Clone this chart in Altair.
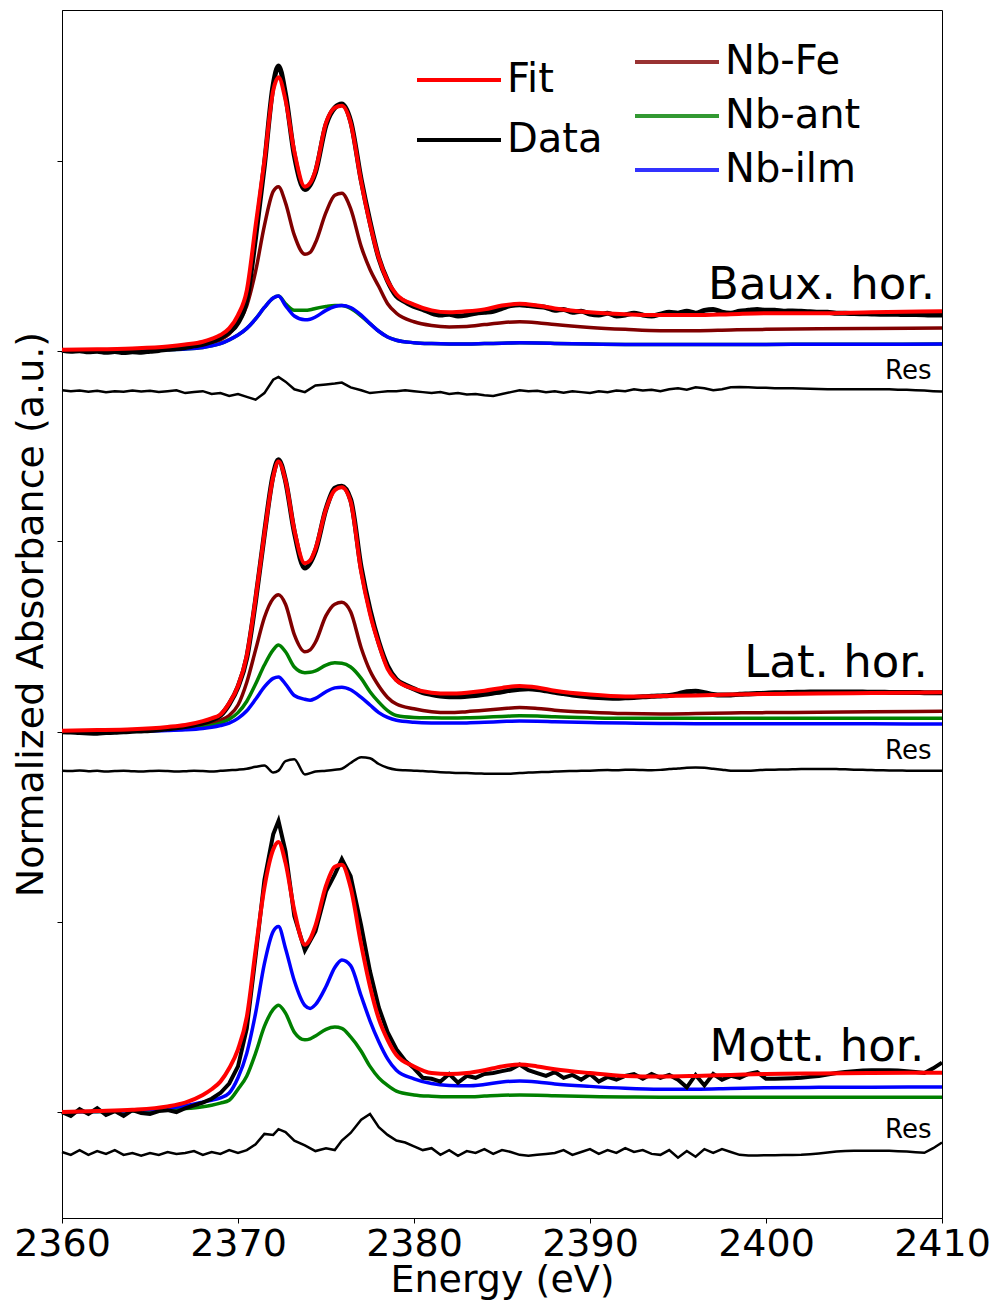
import altair as alt
import pandas as pd

# ---------------- energy grids (eV) ----------------
E_SMOOTH = [2360, 2362, 2364, 2366, 2367, 2368,
            2368.5, 2369, 2369.5, 2370, 2370.5, 2371, 2371.5, 2372, 2372.3, 2372.7,
            2373.2, 2373.8, 2374.1, 2374.4, 2375, 2375.5, 2375.9, 2376.4, 2377, 2377.5, 2378,
            2378.5, 2379, 2380, 2381, 2382, 2383, 2384, 2385, 2386, 2387,
            2388, 2390, 2392, 2394, 2396, 2398, 2400, 2403, 2406, 2410]

E_FINE = [2360, 2360.5, 2361, 2361.5, 2362, 2362.5, 2363, 2363.5, 2364, 2364.5,
          2365, 2365.5, 2366, 2366.5, 2367, 2367.5, 2368, 2368.5, 2369, 2369.5,
          2370,
          2370.5, 2371, 2371.5, 2372, 2372.3, 2372.7, 2373.2, 2373.8, 2374.4, 2375,
          2375.5, 2375.9, 2376.4, 2377, 2377.5, 2378, 2378.5, 2379,
          2379.5, 2380, 2380.5, 2381, 2381.5, 2382, 2382.5, 2383, 2383.5, 2384,
          2384.5, 2385, 2385.5, 2386, 2386.5, 2387, 2387.5, 2388, 2388.5, 2389,
          2389.5, 2390, 2390.5, 2391, 2391.5, 2392, 2392.5, 2393, 2393.5, 2394,
          2394.5, 2395, 2395.5, 2396, 2396.5, 2397, 2397.5, 2398, 2398.5, 2399,
          2399.5, 2400, 2400.5, 2401, 2401.5, 2402, 2402.5, 2403, 2403.5, 2404,
          2404.5, 2405, 2405.5, 2406, 2406.5, 2407, 2407.5, 2408, 2408.5, 2409,
          2409.5, 2410]

# ---------------- Bauxite horizon (offset +4) ----------------
BAUX_FIT = [4.008, 4.01, 4.015, 4.025, 4.035, 4.05,
            4.065, 4.085, 4.12, 4.19, 4.32, 4.66, 5.00, 5.37, 5.44, 5.32,
            5.05, 4.865, 4.885, 4.95, 5.20, 5.28, 5.29, 5.20, 4.89, 4.67, 4.49,
            4.37, 4.30, 4.245, 4.215, 4.205, 4.21, 4.22, 4.24, 4.25, 4.24,
            4.225, 4.205, 4.195, 4.19, 4.19, 4.195, 4.20, 4.20, 4.205, 4.21]
BAUX_FE = [4.005, 4.007, 4.01, 4.017, 4.025, 4.035,
           4.045, 4.06, 4.09, 4.15, 4.24, 4.42, 4.66, 4.84, 4.865, 4.78,
           4.61, 4.51, 4.52, 4.57, 4.73, 4.82, 4.83, 4.75, 4.55, 4.43, 4.34,
           4.25, 4.20, 4.155, 4.135, 4.128, 4.13, 4.14, 4.15, 4.155, 4.15,
           4.14, 4.125, 4.115, 4.108, 4.108, 4.112, 4.115, 4.118, 4.12, 4.122]
BAUX_ANT = [4.0, 4.002, 4.004, 4.008, 4.012, 4.02,
            4.028, 4.04, 4.06, 4.085, 4.12, 4.17, 4.23, 4.28, 4.29, 4.25,
            4.215, 4.215, 4.218, 4.225, 4.235, 4.24, 4.24, 4.225, 4.185, 4.145, 4.105,
            4.075, 4.058, 4.045, 4.04, 4.038, 4.038, 4.04, 4.042, 4.044, 4.043,
            4.041, 4.038, 4.036, 4.035, 4.035, 4.036, 4.036, 4.037, 4.037, 4.038]
BAUX_ILM = [4.0, 4.002, 4.004, 4.008, 4.012, 4.02,
            4.028, 4.04, 4.06, 4.085, 4.12, 4.17, 4.23, 4.28, 4.29, 4.24,
            4.185, 4.165, 4.168, 4.18, 4.215, 4.235, 4.24, 4.23, 4.19, 4.145, 4.105,
            4.075, 4.058, 4.045, 4.04, 4.038, 4.038, 4.04, 4.042, 4.044, 4.043,
            4.041, 4.038, 4.036, 4.035, 4.035, 4.036, 4.036, 4.037, 4.037, 4.038]
BAUX_DATA = [4.005, 4.0, 4.003, 3.997, 4.0, 3.994, 3.998, 3.993, 3.997, 3.995,
             4.0, 4.004, 4.01, 4.014, 4.02, 4.028, 4.036, 4.05, 4.07, 4.10,
             4.15,
             4.27, 4.60, 4.98, 5.40, 5.50, 5.35, 5.03, 4.85, 4.94, 5.19,
             5.28, 5.30, 5.21, 4.90, 4.68, 4.49, 4.37, 4.29,
             4.26, 4.235, 4.22, 4.20, 4.19, 4.195, 4.185, 4.19, 4.2, 4.205,
             4.21, 4.225, 4.24, 4.245, 4.24, 4.235, 4.23, 4.215, 4.22, 4.205,
             4.21, 4.195, 4.19, 4.2, 4.185, 4.19, 4.2, 4.19, 4.185, 4.195,
             4.205, 4.2, 4.21, 4.2, 4.215, 4.22, 4.205, 4.2, 4.21, 4.215,
             4.22, 4.215, 4.215, 4.21, 4.212, 4.21, 4.208, 4.205, 4.205, 4.2,
             4.2, 4.198, 4.197, 4.196, 4.195, 4.195, 4.194, 4.193, 4.193, 4.192,
             4.19, 4.19]
BAUX_RES = [3.795, 3.79, 3.793, 3.787, 3.792, 3.785, 3.79, 3.787, 3.793, 3.788,
            3.792, 3.786, 3.79, 3.795, 3.78, 3.786, 3.79, 3.775, 3.78, 3.765,
            3.775,
            3.76, 3.745, 3.78, 3.85, 3.865, 3.84, 3.80, 3.785, 3.82, 3.825,
            3.83, 3.835, 3.81, 3.795, 3.78, 3.785, 3.79, 3.79,
            3.795, 3.79, 3.785, 3.78, 3.785, 3.775, 3.78, 3.772, 3.775, 3.768,
            3.765, 3.775, 3.785, 3.795, 3.79, 3.792, 3.785, 3.79, 3.782, 3.79,
            3.785, 3.78, 3.79, 3.785, 3.793, 3.79, 3.8, 3.793, 3.797, 3.79,
            3.8, 3.805, 3.798, 3.81, 3.805, 3.795, 3.8, 3.81, 3.812, 3.81,
            3.808, 3.808, 3.806, 3.805, 3.805, 3.804, 3.803, 3.802, 3.8, 3.8,
            3.8, 3.8, 3.8, 3.8, 3.8, 3.8, 3.798, 3.797, 3.795, 3.793,
            3.79, 3.788]

# ---------------- Laterite horizon (offset +2) ----------------
LAT_FIT = [2.005, 2.008, 2.013, 2.025, 2.035, 2.055,
           2.07, 2.09, 2.15, 2.24, 2.40, 2.70, 3.04, 3.34, 3.42, 3.32,
           3.06, 2.885, 2.90, 2.96, 3.17, 3.27, 3.285, 3.21, 2.84, 2.62, 2.46,
           2.33, 2.27, 2.225, 2.205, 2.20, 2.205, 2.215, 2.23, 2.24, 2.232,
           2.215, 2.195, 2.185, 2.187, 2.19, 2.195, 2.198, 2.20, 2.203, 2.207]
LAT_FE = [2.003, 2.005, 2.008, 2.015, 2.022, 2.033,
          2.042, 2.06, 2.085, 2.14, 2.26, 2.43, 2.60, 2.70, 2.72, 2.67,
          2.51, 2.42, 2.43, 2.47, 2.61, 2.67, 2.68, 2.63, 2.44, 2.32, 2.24,
          2.18, 2.145, 2.12, 2.105, 2.10, 2.105, 2.112, 2.12, 2.127, 2.122,
          2.113, 2.102, 2.095, 2.093, 2.095, 2.098, 2.10, 2.102, 2.105, 2.107]
LAT_ANT = [2.0, 2.002, 2.005, 2.01, 2.015, 2.024,
           2.032, 2.045, 2.065, 2.10, 2.16, 2.25, 2.35, 2.43, 2.455, 2.42,
           2.34, 2.31, 2.312, 2.32, 2.35, 2.362, 2.36, 2.34, 2.28, 2.21, 2.155,
           2.11, 2.085, 2.075, 2.073, 2.072, 2.073, 2.076, 2.08, 2.083, 2.082,
           2.078, 2.073, 2.07, 2.07, 2.07, 2.07, 2.07, 2.07, 2.07, 2.07]
LAT_ILM = [2.0, 2.0, 2.002, 2.006, 2.01, 2.017,
           2.023, 2.032, 2.045, 2.07, 2.11, 2.17, 2.235, 2.28, 2.287, 2.25,
           2.19, 2.17, 2.165, 2.175, 2.21, 2.23, 2.234, 2.22, 2.18, 2.14, 2.10,
           2.075, 2.06, 2.05, 2.046, 2.045, 2.046, 2.049, 2.053, 2.056, 2.055,
           2.052, 2.048, 2.045, 2.043, 2.042, 2.042, 2.042, 2.042, 2.041, 2.04]
LAT_DATA = [2.0, 1.998, 1.995, 1.993, 1.992, 1.995, 1.997, 2.0, 2.002, 2.004,
            2.006, 2.01, 2.015, 2.02, 2.027, 2.035, 2.045, 2.06, 2.085, 2.145,
            2.235,
            2.39, 2.69, 3.04, 3.35, 3.43, 3.32, 3.05, 2.86, 2.95, 3.17,
            3.28, 3.29, 3.22, 2.86, 2.64, 2.47, 2.345, 2.275,
            2.245, 2.225, 2.205, 2.195, 2.187, 2.183, 2.183, 2.186, 2.19, 2.196,
            2.203, 2.21, 2.218, 2.223, 2.225, 2.222, 2.215, 2.207, 2.2, 2.193,
            2.187, 2.182, 2.179, 2.177, 2.176, 2.178, 2.18, 2.183, 2.186, 2.188,
            2.19, 2.198, 2.21, 2.213, 2.205, 2.195, 2.192, 2.193, 2.196, 2.198,
            2.2, 2.202, 2.204, 2.205, 2.206, 2.207, 2.208, 2.208, 2.209, 2.209,
            2.209, 2.208, 2.208, 2.207, 2.207, 2.206, 2.206, 2.206, 2.206, 2.205,
            2.205, 2.205]
LAT_RES = [1.795, 1.793, 1.796, 1.792, 1.794, 1.79, 1.793, 1.795, 1.792, 1.79,
           1.793, 1.795, 1.793, 1.79, 1.792, 1.795, 1.793, 1.79, 1.794, 1.797,
           1.80,
           1.805, 1.815, 1.822, 1.785, 1.795, 1.845, 1.855, 1.775, 1.79, 1.795,
           1.8, 1.805, 1.835, 1.866, 1.86, 1.83, 1.81, 1.80,
           1.797, 1.795, 1.793, 1.79, 1.787, 1.785, 1.783, 1.782, 1.78, 1.779,
           1.778, 1.778, 1.779, 1.782, 1.785, 1.787, 1.788, 1.79, 1.792, 1.793,
           1.794, 1.795, 1.797, 1.798, 1.797, 1.799, 1.8, 1.798, 1.797, 1.799,
           1.803, 1.806, 1.81, 1.812, 1.81, 1.805, 1.8, 1.795, 1.794, 1.795,
           1.797, 1.799, 1.8, 1.801, 1.802, 1.803, 1.803, 1.804, 1.804, 1.803,
           1.802, 1.8, 1.799, 1.798, 1.797, 1.796, 1.796, 1.795, 1.795, 1.795,
           1.794, 1.794]

# ---------------- Mottled horizon (offset 0) ----------------
MOTT_FIT = [0.0, 0.005, 0.012, 0.03, 0.05, 0.09,
            0.12, 0.16, 0.23, 0.33, 0.50, 0.85, 1.18, 1.38, 1.42, 1.31,
            1.06, 0.88, 0.91, 0.98, 1.19, 1.29, 1.30, 1.18, 0.88, 0.66, 0.49,
            0.38, 0.30, 0.24, 0.205, 0.20, 0.205, 0.22, 0.24, 0.25, 0.24,
            0.225, 0.205, 0.19, 0.187, 0.19, 0.195, 0.20, 0.203, 0.205, 0.207]
MOTT_ANT = [0.0, 0.002, 0.005, 0.012, 0.018, 0.028,
            0.036, 0.047, 0.062, 0.12, 0.19, 0.31, 0.45, 0.54, 0.562, 0.52,
            0.42, 0.38, 0.385, 0.40, 0.435, 0.447, 0.44, 0.395, 0.32, 0.24, 0.18,
            0.14, 0.11, 0.09, 0.083, 0.08, 0.08, 0.084, 0.088, 0.09, 0.089,
            0.086, 0.082, 0.079, 0.078, 0.078, 0.078, 0.078, 0.078, 0.078, 0.078]
MOTT_ILM = [0.0, 0.003, 0.008, 0.02, 0.033, 0.052,
            0.062, 0.075, 0.10, 0.18, 0.31, 0.52, 0.78, 0.95, 0.975, 0.86,
            0.69, 0.56, 0.545, 0.565, 0.66, 0.76, 0.80, 0.77, 0.61, 0.48, 0.37,
            0.28, 0.22, 0.175, 0.15, 0.14, 0.138, 0.145, 0.158, 0.163, 0.158,
            0.148, 0.135, 0.125, 0.12, 0.12, 0.124, 0.128, 0.13, 0.131, 0.132]
MOTT_DATA = [0.0, -0.02, 0.015, -0.01, 0.02, -0.015, 0.005, -0.02, 0.01, -0.005,
             -0.01, 0.005, 0.01, 0.0, 0.02, 0.035, 0.05, 0.07, 0.10, 0.15,
             0.24,
             0.44, 0.82, 1.22, 1.46, 1.53, 1.37, 1.03, 0.85, 0.95, 1.16,
             1.25, 1.33, 1.24, 0.98, 0.74, 0.55, 0.42, 0.33,
             0.27, 0.23, 0.18, 0.175, 0.16, 0.2, 0.155, 0.19, 0.18, 0.2,
             0.205, 0.215, 0.225, 0.25, 0.22, 0.205, 0.19, 0.21, 0.18, 0.195,
             0.17, 0.2, 0.16, 0.185, 0.17, 0.19, 0.2, 0.175, 0.2, 0.18,
             0.195, 0.17, 0.13, 0.195, 0.14, 0.2, 0.17, 0.19, 0.18, 0.2,
             0.21, 0.175, 0.175, 0.176, 0.178, 0.18, 0.185, 0.19, 0.197, 0.205,
             0.21, 0.215, 0.218, 0.22, 0.22, 0.22, 0.218, 0.215, 0.21, 0.205,
             0.23, 0.26]
MOTT_RES = [-0.21, -0.225, -0.2, -0.225, -0.205, -0.22, -0.2, -0.225, -0.215, -0.23,
            -0.215, -0.225, -0.21, -0.22, -0.215, -0.205, -0.225, -0.21, -0.22, -0.2,
            -0.215,
            -0.2, -0.17, -0.115, -0.12, -0.09, -0.105, -0.15, -0.175, -0.205, -0.19,
            -0.2, -0.15, -0.11, -0.04, -0.01, -0.08, -0.12, -0.15,
            -0.16, -0.18, -0.2, -0.19, -0.225, -0.2, -0.23, -0.205, -0.215, -0.195,
            -0.22, -0.2, -0.21, -0.225, -0.23, -0.225, -0.22, -0.215, -0.2, -0.225,
            -0.21, -0.195, -0.22, -0.2, -0.215, -0.19, -0.21, -0.2, -0.22, -0.225,
            -0.2, -0.24, -0.205, -0.235, -0.195, -0.215, -0.195, -0.21, -0.225, -0.228,
            -0.228, -0.227, -0.227, -0.226, -0.226, -0.225, -0.222, -0.218, -0.213, -0.208,
            -0.205, -0.204, -0.203, -0.203, -0.203, -0.204, -0.206, -0.208, -0.211, -0.214,
            -0.19, -0.16]

# ---------------- text labels ----------------
PANEL_LABELS = ["Baux. hor.", "Lat. hor.", "Mott. hor."]
PANEL_LABEL_E = [2409.6, 2409.2, 2409.0]
PANEL_LABEL_A = [4.35, 2.36, 0.34]
RES_LABEL_E = [2409.4, 2409.4, 2409.4]
RES_LABEL_A = [3.896, 1.898, -0.095]

FONT = "DejaVu Sans"


def frame(xs, ys, series, kind):
    return pd.DataFrame({"E": xs, "A": ys, "series": series, "kind": kind})


smooth_fit = pd.concat([frame(E_SMOOTH, BAUX_FIT, "baux_fit", "Fit"),
                        frame(E_SMOOTH, LAT_FIT, "lat_fit", "Fit"),
                        frame(E_SMOOTH, MOTT_FIT, "mott_fit", "Fit")])
comps = pd.concat([frame(E_SMOOTH, BAUX_FE, "baux_fe", "Nb-Fe"),
                   frame(E_SMOOTH, BAUX_ANT, "baux_ant", "Nb-ant"),
                   frame(E_SMOOTH, BAUX_ILM, "baux_ilm", "Nb-ilm"),
                   frame(E_SMOOTH, LAT_FE, "lat_fe", "Nb-Fe"),
                   frame(E_SMOOTH, LAT_ANT, "lat_ant", "Nb-ant"),
                   frame(E_SMOOTH, LAT_ILM, "lat_ilm", "Nb-ilm"),
                   frame(E_SMOOTH, MOTT_ANT, "mott_ant", "Nb-ant"),
                   frame(E_SMOOTH, MOTT_ILM, "mott_ilm", "Nb-ilm")])
data_smooth_df = pd.concat([frame(E_FINE, BAUX_DATA, "baux_data", "Data"),
                            frame(E_FINE, LAT_DATA, "lat_data", "Data")])
data_noisy_df = frame(E_FINE, MOTT_DATA, "mott_data", "Data")
res_noisy_df = pd.concat([frame(E_FINE, BAUX_RES, "baux_res", "Res"),
                          frame(E_FINE, MOTT_RES, "mott_res", "Res")])
res_smooth_df = frame(E_FINE, LAT_RES, "lat_res", "Res")
panel_df = pd.DataFrame({"E": PANEL_LABEL_E, "A": PANEL_LABEL_A, "label": PANEL_LABELS})
reslab_df = pd.DataFrame({"E": RES_LABEL_E, "A": RES_LABEL_A, "label": ["Res"] * 3})

x_enc = alt.X("E:Q",
              scale=alt.Scale(domain=[2360, 2410], nice=False, zero=False),
              axis=alt.Axis(values=[2360, 2370, 2380, 2390, 2400, 2410], format="d",
                            title="Energy (eV)", grid=False, tickSize=5,
                            labelFontSize=38, titleFontSize=38, labelFont=FONT,
                            titleFont=FONT, titleFontWeight="normal",
                            labelColor="black", titleColor="black",
                            domainColor="black", tickColor="black",
                            labelPadding=2, titlePadding=-2, labelFlush=False))
y_enc = alt.Y("A:Q",
              scale=alt.Scale(domain=[-0.557, 5.794], nice=False, zero=False),
              axis=alt.Axis(values=[0, 1, 2, 3, 4, 5], labels=False,
                            title="Normalized Absorbance (a.u.)", grid=False,
                            tickSize=5, titleFontSize=38, titleFont=FONT,
                            titleFontWeight="normal", titleColor="black",
                            domainColor="black", tickColor="black",
                            titlePadding=6))

# line-shaped legend symbol twice as long as its nominal size
legend_common = dict(title=None, orient="none", symbolType="M-2,0H2",
                     symbolSize=1764, symbolStrokeWidth=4, labelFontSize=40,
                     labelFont=FONT, labelColor="black", labelOffset=25,
                     padding=0, labelLimit=400)

fd_color = alt.Color("kind:N",
                     scale=alt.Scale(domain=["Fit", "Data"], range=["#ff0000", "#000000"]),
                     legend=alt.Legend(legendX=374, legendY=47, rowPadding=17,
                                       **legend_common))
comp_color = alt.Color("kind:N",
                       scale=alt.Scale(domain=["Nb-Fe", "Nb-ant", "Nb-ilm"],
                                       range=["#800000", "#008000", "#0000ff"]),
                       legend=alt.Legend(legendX=592, legendY=29, rowPadding=11,
                                         symbolOpacity=0.8, **legend_common))

res_noisy = alt.Chart(res_noisy_df).mark_line(color="black", strokeWidth=2.5).encode(
    x=x_enc, y=y_enc, detail="series:N")
res_smooth = alt.Chart(res_smooth_df).mark_line(
    color="black", strokeWidth=2.5, interpolate="monotone").encode(
    x=x_enc, y=y_enc, detail="series:N")
comp_layer = alt.Chart(comps).mark_line(strokeWidth=3.5, interpolate="monotone").encode(
    x=x_enc, y=y_enc, color=comp_color, detail="series:N")
data_smooth = alt.Chart(data_smooth_df).mark_line(strokeWidth=5, interpolate="monotone").encode(
    x=x_enc, y=y_enc, color=fd_color, detail="series:N")
data_noisy = alt.Chart(data_noisy_df).mark_line(strokeWidth=4).encode(
    x=x_enc, y=y_enc, color=fd_color, detail="series:N")
fit_layer = alt.Chart(smooth_fit).mark_line(strokeWidth=4, interpolate="monotone").encode(
    x=x_enc, y=y_enc, color=fd_color, detail="series:N")
fd_layer = alt.layer(data_smooth, data_noisy, fit_layer)

panel_text = alt.Chart(panel_df).mark_text(
    align="right", baseline="middle", fontSize=45, font=FONT, color="black").encode(
    x=x_enc, y=y_enc, text="label:N")
res_text = alt.Chart(reslab_df).mark_text(
    align="right", baseline="middle", fontSize=26, font=FONT, color="black").encode(
    x=x_enc, y=y_enc, text="label:N")

chart = alt.layer(res_noisy, res_smooth, comp_layer, fd_layer, panel_text, res_text).resolve_scale(
    color="independent"
).properties(
    width=880, height=1208,
    autosize=alt.AutoSizeParams(type="none"),
    padding={"left": 54, "top": 2, "right": 47, "bottom": 82},
    background="white",
).configure_view(stroke="black", strokeWidth=1)

chart.save("out.html", embed_options={"renderer": "svg", "actions": False})
